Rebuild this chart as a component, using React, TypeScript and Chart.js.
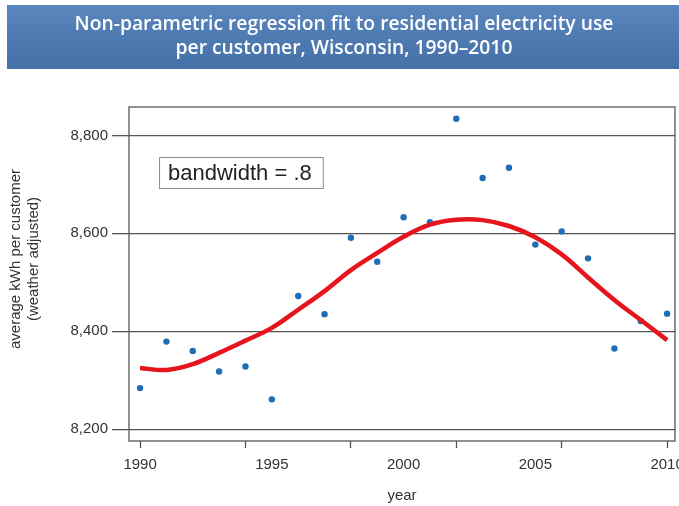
import React, { useEffect, useRef } from "react";
import { Chart, registerables } from "chart.js";

Chart.register(...registerables);

// Annual residential electricity use per customer (kWh, weather adjusted)
const YEARS = [1990, 1991, 1992, 1993, 1994, 1995, 1996, 1997, 1998, 1999, 2000, 2001, 2002, 2003, 2004, 2005, 2006, 2007, 2008, 2009, 2010];
const USAGE = [8284, 8379, 8360, 8318, 8328, 8261, 8472, 8435, 8591, 8542, 8633, 8623, 8834, 8713, 8734, 8577, 8604, 8549, 8365, 8421, 8436];
// Non-parametric (kernel) regression fit, bandwidth .8
const FIT = [8325, 8321, 8333, 8356, 8381, 8407, 8444, 8482, 8525, 8560, 8593, 8618, 8628, 8627, 8615, 8592, 8557, 8510, 8464, 8423, 8382];

const Y_TICKS = [8200, 8400, 8600, 8800];
const X_TICK_MARKS = [1990, 1994, 1998, 2002, 2006, 2010];
const X_LABELS = [1990, 1995, 2000, 2005, 2010];

const TITLE_LINES = [
  "Non-parametric regression fit to residential electricity use",
  "per customer, Wisconsin, 1990–2010",
];
const Y_TITLE_LINES = ["average kWh per customer", "(weather adjusted)"];
const X_TITLE = "year";
const NOTE = "bandwidth = .8";
const NOTE_AT = { x: 1990.72, y: 8756 };

const FONT = '"Liberation Sans", Arial, sans-serif';
const TITLE_FONT = '"Open Sans", "Liberation Sans", sans-serif';
const INK = "#333333";
const RULE = "#555555";

const decor = {
  id: "decor",
  beforeDraw(chart: any) {
    const ctx = chart.ctx;
    ctx.save();
    ctx.fillStyle = "#ffffff";
    ctx.fillRect(0, 0, chart.width, chart.height);
    // title banner
    const g = ctx.createLinearGradient(0, 5, 0, 69);
    g.addColorStop(0, "#5a86bd");
    g.addColorStop(1, "#4470a8");
    ctx.fillStyle = g;
    ctx.fillRect(7, 5, chart.width - 7, 64);
    ctx.fillStyle = "#ffffff";
    ctx.font = `600 19.3px ${TITLE_FONT}`;
    ctx.textAlign = "center";
    ctx.textBaseline = "middle";
    ctx.fillText(TITLE_LINES[0], 344, 25);
    ctx.fillText(TITLE_LINES[1], 344, 49);
    ctx.restore();
  },
  beforeDatasetsDraw(chart: any) {
    const { ctx, chartArea: a } = chart;
    ctx.save();
    ctx.strokeStyle = RULE;
    ctx.lineWidth = 1.3;
    ctx.strokeRect(a.left, a.top, a.right - a.left, a.bottom - a.top);
    ctx.restore();
  },
  afterDraw(chart: any) {
    const { ctx, chartArea: a, scales } = chart;
    ctx.save();
    // bandwidth note
    const bx = scales.x.getPixelForValue(NOTE_AT.x);
    const by = scales.y.getPixelForValue(NOTE_AT.y);
    ctx.font = `22px ${FONT}`;
    const tw = ctx.measureText(NOTE).width;
    const bw = tw + 20;
    const bh = 31;
    ctx.fillStyle = "#ffffff";
    ctx.fillRect(bx, by, bw, bh);
    ctx.strokeStyle = "#8a8a8a";
    ctx.lineWidth = 1;
    ctx.strokeRect(bx + 0.5, by + 0.5, bw, bh);
    ctx.fillStyle = "#222222";
    ctx.textAlign = "left";
    ctx.textBaseline = "middle";
    ctx.fillText(NOTE, bx + 9, by + bh / 2 + 1);

    // axis titles
    ctx.fillStyle = INK;
    ctx.font = `15px ${FONT}`;
    ctx.textAlign = "center";
    ctx.textBaseline = "middle";
    ctx.translate(16, 259);
    ctx.rotate(-Math.PI / 2);
    ctx.fillText(Y_TITLE_LINES[0], 0, 0);
    ctx.fillText(Y_TITLE_LINES[1], 0, 18);
    ctx.setTransform(1, 0, 0, 1, 0, 0);
    ctx.fillText(X_TITLE, (a.left + a.right) / 2, 496);
    ctx.restore();
  },
};

export default function App() {
  const ref = useRef<HTMLCanvasElement | null>(null);

  useEffect(() => {
    if (!ref.current) return;
    const chart = new Chart(ref.current, {
      type: "scatter",
      data: {
        datasets: [
          {
            label: "fit",
            data: YEARS.map((x, i) => ({ x, y: FIT[i] })),
            showLine: true,
            tension: 0.4,
            borderColor: "#e5141d",
            borderWidth: 4.5,
            pointRadius: 0,
            order: 0,
          },
          {
            label: "usage",
            data: YEARS.map((x, i) => ({ x, y: USAGE[i] })),
            backgroundColor: "#1f6db5",
            borderWidth: 0,
            pointRadius: 3.2,
            order: 1,
          },
        ],
      } as any,
      plugins: [decor],
      options: {
        responsive: false,
        animation: false,
        events: [],
        layout: { padding: { top: 107, right: 4, left: 0, bottom: 0 } },
        plugins: { legend: { display: false }, tooltip: { enabled: false }, title: { display: false } },
        scales: {
          x: {
            type: "linear",
            min: 1989.58,
            max: 2010.3,
            afterBuildTicks: (s: any) => {
              const vals = Array.from(new Set([...X_TICK_MARKS, ...X_LABELS])).sort((p, q) => p - q);
              s.ticks = vals.map((value) => ({ value }));
            },
            afterFit: (s: any) => {
              s.height = 65;
              s.paddingLeft = 0;
              s.paddingRight = 0;
            },
            border: { display: false },
            grid: {
              drawOnChartArea: false,
              drawTicks: true,
              tickLength: 7,
              tickWidth: 1.3,
              tickColor: (c: any) => (X_TICK_MARKS.includes(c.tick?.value) ? RULE : "rgba(0,0,0,0)"),
            },
            ticks: {
              autoSkip: false,
              maxRotation: 0,
              padding: 8,
              color: INK,
              font: { family: FONT, size: 15 },
              callback: (v: any) => (X_LABELS.includes(Number(v)) ? String(v) : ""),
            },
          },
          y: {
            type: "linear",
            min: 8176,
            max: 8858,
            afterBuildTicks: (s: any) => {
              s.ticks = Y_TICKS.map((value) => ({ value }));
            },
            afterFit: (s: any) => {
              s.width = 129;
              s.paddingTop = 0;
              s.paddingBottom = 0;
            },
            border: { display: false },
            grid: {
              color: RULE,
              lineWidth: 1.3,
              drawTicks: true,
              tickLength: 17,
            },
            ticks: {
              padding: 4,
              color: INK,
              font: { family: FONT, size: 15 },
              callback: (v: any) => Number(v).toLocaleString("en-US"),
            },
          },
        },
      } as any,
    });
    return () => chart.destroy();
  }, []);

  return (
    <div style={{ position: "absolute", left: 0, top: 0, width: 679, height: 506 }}>
      <canvas ref={ref} width={679} height={506} style={{ width: 679, height: 506, display: "block" }} />
    </div>
  );
}
